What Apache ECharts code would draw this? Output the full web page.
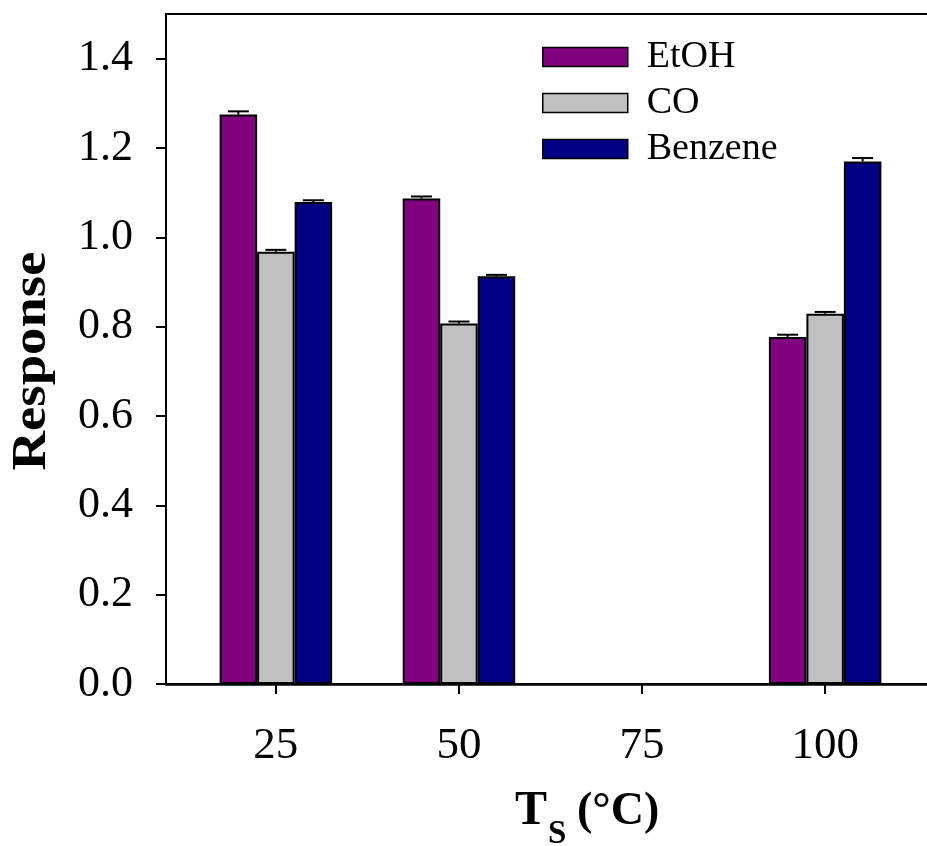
<!DOCTYPE html>
<html>
<head>
<meta charset="utf-8">
<script src="https://cdn.jsdelivr.net/npm/echarts@6/dist/echarts.min.js"></script>
<style>
  html, body { margin: 0; padding: 0; background: #fff; }
  #chart { width: 927px; height: 846px; }
</style>
</head>
<body>
<div id="chart"></div>
<script>
// Sensor response at each operating temperature
const temps = [25, 50, 100];
const etoh = [1.275, 1.087, 0.777];
const co = [0.968, 0.807, 0.829];
const benzene = [1.079, 0.913, 1.170];
// Upper error (standard deviation)
const etohErr = [0.007, 0.0045, 0.005];
const coErr = [0.004, 0.0045, 0.004];
const benzeneErr = [0.004, 0.003, 0.0075];
// Axis ticks
const xTicks = [25, 50, 75, 100];
const yTicks = [0, 0.2, 0.4, 0.6, 0.8, 1.0, 1.2, 1.4];

const seriesNames = ['EtOH', 'CO', 'Benzene'];
const seriesColors = ['#800080', '#c0c0c0', '#000080'];
const seriesValues = [etoh, co, benzene];
const seriesErrors = [etohErr, coErr, benzeneErr];

const FONT = '"Liberation Serif", "Times New Roman", serif';
const BAR_W = 37.5;

const chart = echarts.init(document.getElementById('chart'), null, { renderer: 'canvas' });

const barSeries = seriesNames.map((name, i) => ({
  name: name,
  type: 'bar',
  barWidth: BAR_W,
  barGap: '0%',
  data: temps.map((t, j) => [t, seriesValues[i][j]]),
  itemStyle: { color: seriesColors[i], borderColor: '#000', borderWidth: 2 },
  emphasis: { disabled: true },
  z: 2
}));

// Upper error bars with caps, offset to sit on each bar of the group
const errorSeries = seriesNames.map((name, i) => ({
  type: 'custom',
  name: name + ' error',
  data: temps.map((t, j) => [t, seriesValues[i][j], seriesValues[i][j] + seriesErrors[i][j]]),
  z: 5,
  silent: true,
  renderItem: function (params, api) {
    const base = api.coord([api.value(0), api.value(1)]);
    const top = api.coord([api.value(0), api.value(2)]);
    const x = base[0] + (i - 1) * BAR_W;
    const style = { stroke: '#000', lineWidth: 2 };
    return {
      type: 'group',
      children: [
        { type: 'line', shape: { x1: x, y1: base[1], x2: x, y2: top[1] }, style: style },
        { type: 'line', shape: { x1: x - 10.5, y1: top[1], x2: x + 10.5, y2: top[1] }, style: style }
      ]
    };
  }
}));

const option = {
  animation: false,
  backgroundColor: '#fff',
  grid: {
    left: 166, top: 14, right: -8, bottom: 162,
    outerBoundsMode: 'none',
    containLabel: false,
    show: true, borderColor: '#000', borderWidth: 2, backgroundColor: 'transparent'
  },
  legend: {
    data: seriesNames,
    orient: 'vertical',
    left: 542, top: 38,
    padding: 0,
    itemWidth: 85, itemHeight: 19, itemGap: 8,
    icon: 'rect',
    selectedMode: false,
    itemStyle: { borderColor: '#000', borderWidth: 1.5 },
    textStyle: { fontFamily: FONT, fontSize: 38, color: '#000', padding: [0, 0, 0, 14] }
  },
  xAxis: {
    type: 'value',
    min: 10, max: 115,
    axisLine: { show: true, lineStyle: { color: '#000', width: 2.5 } },
    axisTick: { show: true, inside: false, length: 10, customValues: xTicks, lineStyle: { color: '#000', width: 2 } },
    axisLabel: { customValues: xTicks, margin: 40, fontFamily: FONT, fontSize: 45, color: '#000' },
    splitLine: { show: false }
  },
  yAxis: {
    type: 'value',
    min: 0, max: 1.5,
    axisLine: { show: true, lineStyle: { color: '#000', width: 2 } },
    axisTick: { show: true, inside: false, length: 10, customValues: yTicks, lineStyle: { color: '#000', width: 2 } },
    axisLabel: {
      customValues: yTicks, margin: 33, fontFamily: FONT, fontSize: 44, color: '#000',
      formatter: v => v.toFixed(1)
    },
    splitLine: { show: false }
  },
  graphic: [
    {
      type: 'text', x: 33, y: 361, rotation: Math.PI / 2, scaleX: 1.14,
      style: { text: 'Response', font: 'bold 48px ' + FONT, fill: '#000', textAlign: 'center', textVerticalAlign: 'middle' }
    },
    {
      type: 'text', x: 515, y: 812,
      style: { text: 'T', font: 'bold 48px ' + FONT, fill: '#000', textAlign: 'left', textVerticalAlign: 'middle' }
    },
    {
      type: 'text', x: 548, y: 834,
      style: { text: 'S', font: 'bold 33px ' + FONT, fill: '#000', textAlign: 'left', textVerticalAlign: 'middle' }
    },
    {
      type: 'text', x: 577, y: 812,
      style: { text: '(°C)', font: 'bold 46px ' + FONT, fill: '#000', textAlign: 'left', textVerticalAlign: 'middle' }
    }
  ],
  series: barSeries.concat(errorSeries)
};

chart.setOption(option);
</script>
</body>
</html>
